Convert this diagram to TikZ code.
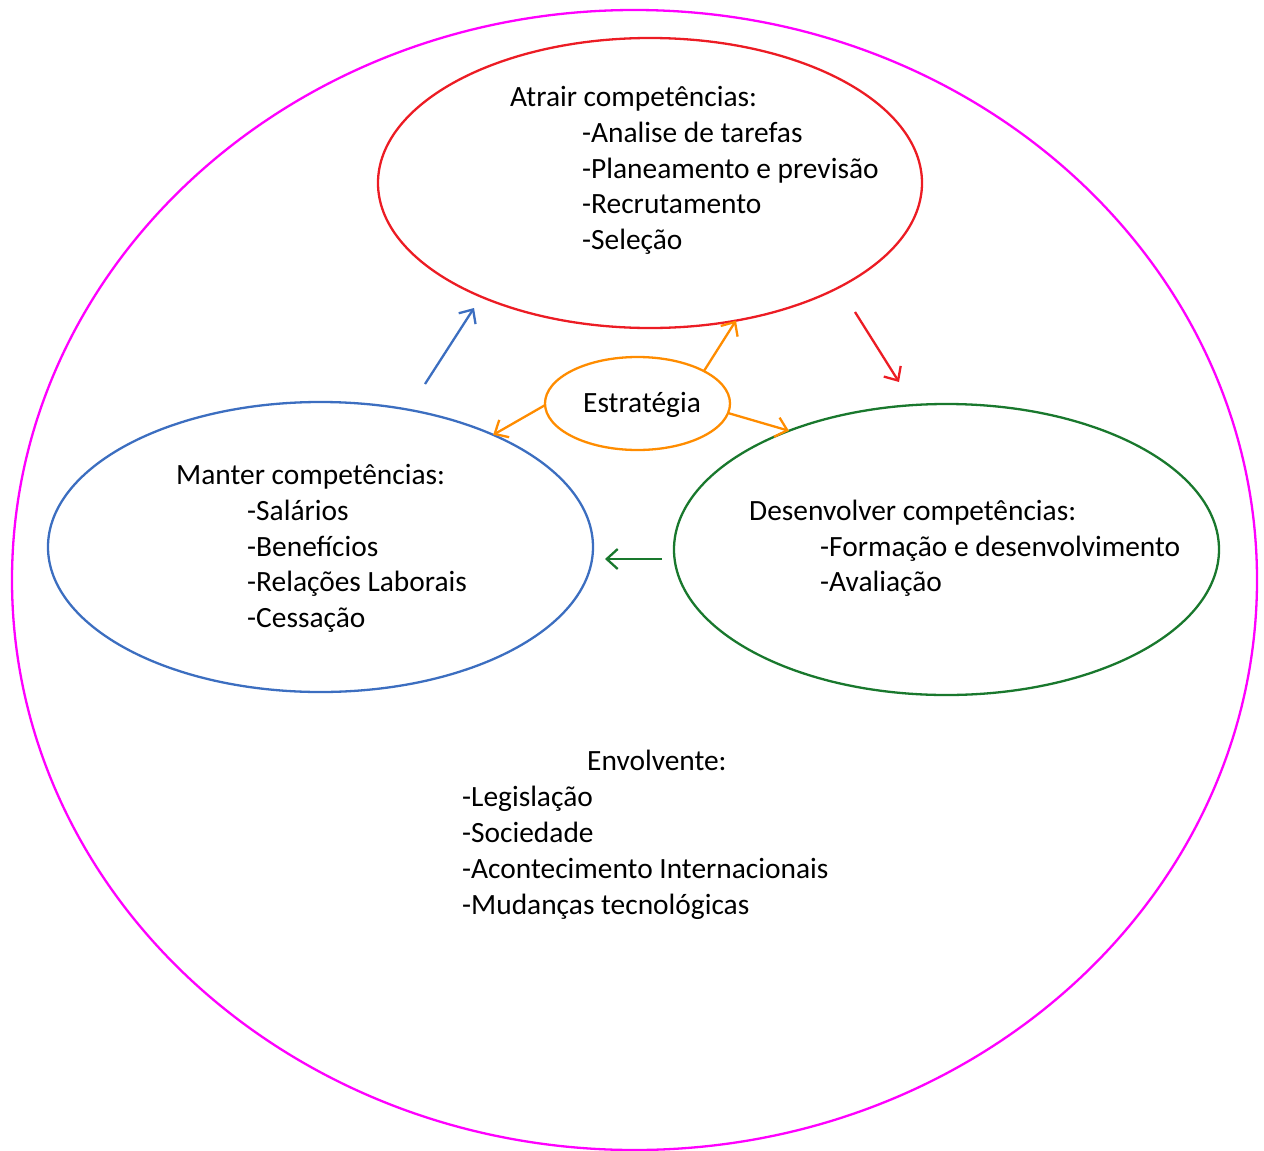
\documentclass[tikz,border=0pt]{standalone}
\usepackage{fontspec}
\setmainfont{Carlito}
\usetikzlibrary{shapes.geometric,arrows.meta}
\definecolor{cMag}{RGB}{255,0,255}
\definecolor{cRed}{RGB}{236,28,36}
\definecolor{cBlue}{RGB}{60,110,192}
\definecolor{cGreen}{RGB}{25,120,45}
\definecolor{cOrange}{RGB}{255,140,0}
\tikzset{
  ell/.style={ellipse, draw, line width=2.3pt, inner sep=0pt, outer sep=0pt},
  txt/.style={anchor=base west, inner sep=0pt, font=\fontsize{29.4}{36}\selectfont},
  arr/.style={line width=2.3pt, -{Straight Barb[length=11pt,width=20pt,line width=2.3pt]}}
}
\begin{document}
\begin{tikzpicture}[x=1pt,y=-1pt]
\useasboundingbox (0,0) rectangle (1264,1151);
\node[ell, draw=cMag, minimum width=1245pt, minimum height=1140pt] (outer) at (634.5,580) {};
\node[ell, draw=cRed, minimum width=544pt, minimum height=290pt] (atrair) at (650,183) {};
\node[ell, draw=cBlue, minimum width=545pt, minimum height=290pt] (manter) at (320.5,547) {};
\node[ell, draw=cGreen, minimum width=545pt, minimum height=291pt] (desenv) at (946.5,549.5) {};
\node[ell, draw=cOrange, minimum width=185pt, minimum height=93pt] (estr) at (637.5,403.5) {};

\node[txt] (a0) at (510,106) {Atrair competências:};
\node[txt] (a1) at (582,142) {-Analise de tarefas};
\node[txt] (a2) at (582,178) {-Planeamento e previsão};
\node[txt] (a3) at (582,213) {-Recrutamento};
\node[txt] (a4) at (582,249) {-Seleção};

\node[txt] (e0) at (583,412) {Estratégia};

\node[txt] (m0) at (176,484) {Manter competências:};
\node[txt] (m1) at (247,520) {-Salários};
\node[txt] (m2) at (247,556) {-Benefícios};
\node[txt] (m3) at (247,591) {-Relações Laborais};
\node[txt] (m4) at (247,627) {-Cessação};

\node[txt] (d0) at (749,520) {Desenvolver competências:};
\node[txt] (d1) at (820,556) {-Formação e desenvolvimento};
\node[txt] (d2) at (820,591) {-Avaliação};

\node[txt] (v0) at (587,770) {Envolvente:};
\node[txt] (v1) at (462,806) {-Legislação};
\node[txt] (v2) at (462,842) {-Sociedade};
\node[txt] (v3) at (462,878) {-Acontecimento Internacionais};
\node[txt] (v4) at (462,914) {-Mudanças tecnológicas};

\coordinate (b1) at (425,384);
\coordinate (b2) at (474,308);
\coordinate (r1) at (855,312);
\coordinate (r2) at (899,382);
\coordinate (g1) at (662,559);
\coordinate (g2) at (605,559);

\draw[arr, cBlue] (b1) -- (b2);
\draw[arr, cRed] (r1) -- (r2);
\draw[arr, cGreen] (g1) -- (g2);
\draw[arr, cOrange] (estr.26) -- (atrair.-58.7);
\draw[arr, cOrange] (estr.181) -- (manter.33.5);
\draw[arr, cOrange] (estr.-6) -- (desenv.143.4);
\end{tikzpicture}
\end{document}
